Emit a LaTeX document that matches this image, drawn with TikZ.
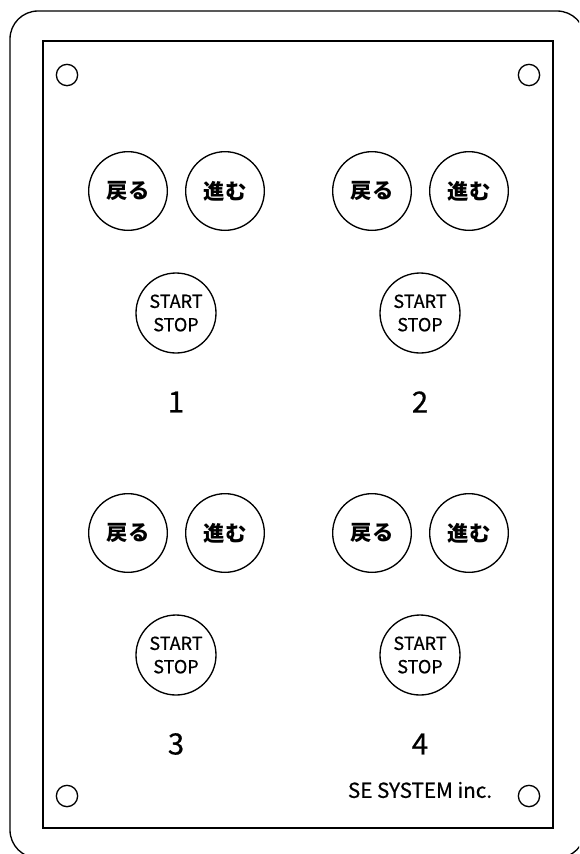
\documentclass[tikz,border=0pt]{standalone}
\usepackage{fontspec}
\setmainfont{Noto Sans CJK JP}
\newfontfamily\medfont[FakeBold=0.6]{Noto Sans CJK JP}
\usepackage{tikz}

\tikzset{
  btn/.style={draw, circle, line width=1pt, minimum size=59pt, inner sep=0pt, font=\fontsize{16}{18}\selectfont\bfseries},
  ssbtn/.style={draw, circle, line width=1pt, minimum size=60pt, inner sep=0pt, align=center, font=\medfont\fontsize{13.5}{17.5}\selectfont},
  hole/.style={draw, circle, line width=1pt, minimum size=16pt, inner sep=0pt},
  numlbl/.style={inner sep=0.75pt, font=\medfont\fontsize{22}{24}\selectfont}
}

\begin{document}
\begin{tikzpicture}[x=0.75pt,y=0.75pt,yscale=-1,xscale=1]
\useasboundingbox (0,0) rectangle (579,854);
\clip (0,0) rectangle (579,854);

%Shape: Outer case
\draw [line width=1pt, rounded corners=21pt] (10,11) rectangle (585,858);
%Shape: Panel
\draw [line width=1pt] (43,41) rectangle (553,828);

%Shape: Holes
\node [hole] (holeTL) at (67,75) {};
\node [hole] (holeTR) at (529,75) {};
\node [hole] (holeBL) at (67,796) {};
\node [hole] (holeBR) at (529,796) {};

% Unit 1
\node [btn] (back1) at (128,191) {戻る};
\node [btn] (fwd1) at (225,191) {進む};
\node [ssbtn] (start1) at (176,313) {START\\STOP};
\node [numlbl] (num1) at (176,402) {1};

% Unit 2
\node [btn] (back2) at (372,191) {戻る};
\node [btn] (fwd2) at (469,191) {進む};
\node [ssbtn] (start2) at (420,313) {START\\STOP};
\node [numlbl] (num2) at (420,402) {2};

% Unit 3
\node [btn] (back3) at (128,533) {戻る};
\node [btn] (fwd3) at (225,533) {進む};
\node [ssbtn] (start3) at (176,655) {START\\STOP};
\node [numlbl] (num3) at (176,744) {3};

% Unit 4
\node [btn] (back4) at (372,533) {戻る};
\node [btn] (fwd4) at (469,533) {進む};
\node [ssbtn] (start4) at (420,655) {START\\STOP};
\node [numlbl] (num4) at (420,744) {4};

% Text Node
\node [inner sep=0.75pt, font=\medfont\fontsize{15.5}{18}\selectfont] (maker) at (420,790) {SE SYSTEM inc.};

\end{tikzpicture}
\end{document}
